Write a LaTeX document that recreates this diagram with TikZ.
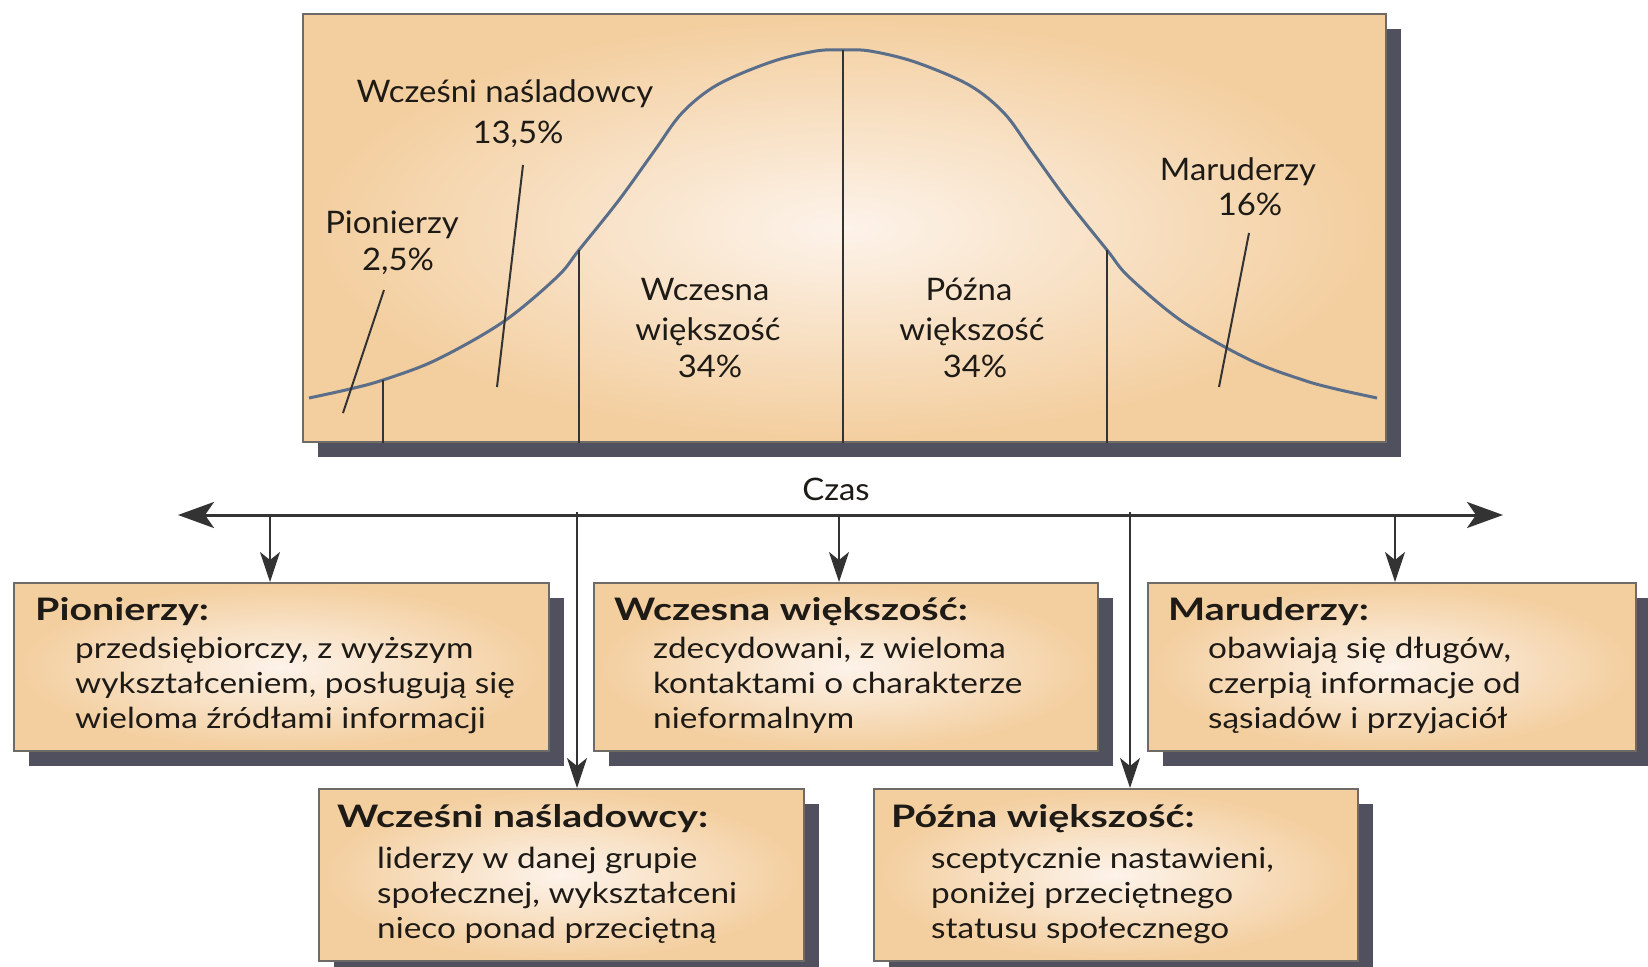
\documentclass[tikz,border=0pt]{standalone}
\usepackage{fontspec}
\setmainfont{Lato}
\newfontfamily\bodyfont[FakeStretch=1.15]{Lato}
\newfontfamily\headfont[FakeStretch=1.27]{Lato}
\newfontfamily\lblfont[FakeStretch=1.06]{Lato}
\usetikzlibrary{arrows.meta,shadows,calc}
\definecolor{tanout}{HTML}{F3CE9E}
\definecolor{tanin}{HTML}{FDF3EA}
\definecolor{shadowc}{HTML}{50505F}
\definecolor{borderc}{HTML}{6E6A66}
\definecolor{curvec}{HTML}{5A6E8A}
\definecolor{linec}{HTML}{333333}
\definecolor{txtc}{HTML}{1E1A16}
\begin{document}
\begin{tikzpicture}[x=1pt,y=-1pt,
  box/.style={draw=borderc, line width=2pt, shading=radial, inner color=tanin, outer color=tanout,
    general shadow={fill=shadowc, shadow xshift=15pt, shadow yshift=-15pt},
    anchor=north west, inner sep=0pt},
  head/.style={anchor=base west, inner sep=0pt, text=txtc, font=\headfont\fontsize{31}{34}\selectfont\bfseries},
  body/.style={anchor=base west, inner sep=0pt, text=txtc, font=\bodyfont\fontsize{29}{32}\selectfont},
  lbl/.style={anchor=base, inner sep=0pt, text=txtc, font=\lblfont\fontsize{31}{34}\selectfont},
  curveline/.style={draw=curvec, line width=3pt, line join=round},
  divline/.style={draw=linec, line width=2.2pt},
  pointer/.style={draw=linec, line width=2pt},
  axisline/.style={draw=linec, line width=3pt, {Stealth[length=36pt,width=26pt,inset=9pt]}-{Stealth[length=36pt,width=26pt,inset=9pt]}},
  arr/.style={draw=linec, line width=2.2pt, -{Stealth[length=30pt,width=20pt,inset=8pt]}}
]
\useasboundingbox (0,0) rectangle (1648,966);

% top chart box
\node[box, minimum width=1083pt, minimum height=428pt] (top) at (302,13) {};

% bell curve
\draw[curveline] plot[smooth, tension=0.55] coordinates {
 (309,398) (350,389) (383,380) (436,360) (503,322) (557,277) (579,250) (619,200)
 (655,150) (682,113) (717,85) (771,62) (816,51) (843,50) (870,51) (915,62)
 (969,85) (1004,113) (1031,150) (1067,200) (1107,250) (1129,277) (1183,322)
 (1250,360) (1303,380) (1336,389) (1377,398)};

% dividing lines
\coordinate (v1) at (383,380);
\coordinate (v2) at (579,250);
\coordinate (v3) at (843,50);
\coordinate (v4) at (1107,250);
\foreach \v in {v1,v2,v3,v4} \draw[divline] (\v) -- (\v |- top.south);

% label pointers
\coordinate (pA1) at (384,290); \coordinate (pA2) at (343,413);
\coordinate (pB1) at (523,165); \coordinate (pB2) at (497,387);
\coordinate (pC1) at (1249,233); \coordinate (pC2) at (1219,387);
\draw[pointer] (pA1) -- (pA2);
\draw[pointer] (pB1) -- (pB2);
\draw[pointer] (pC1) -- (pC2);

% chart labels
\node[lbl] (lwn1) at (505,102) {Wcześni naśladowcy};
\node[lbl] (lwn2) at (518,143) {13,5\%};
\node[lbl] (lpi1) at (392,233) {Pionierzy};
\node[lbl] (lpi2) at (398,270) {2,5\%};
\node[lbl] (lwc1) at (705,300) {Wczesna};
\node[lbl] (lwc2) at (708,340) {większość};
\node[lbl] (lwc3) at (710,377) {34\%};
\node[lbl] (lpo1) at (969,300) {Późna};
\node[lbl] (lpo2) at (972,340) {większość};
\node[lbl] (lpo3) at (975,377) {34\%};
\node[lbl] (lma1) at (1238,180) {Maruderzy};
\node[lbl] (lma2) at (1250,215) {16\%};

% time axis
\node[lbl] (czas) at (836,500) {Czas};
\coordinate (axL) at (178,515);
\coordinate (axR) at (1503,515);
\draw[axisline] (axL) -- (axR);

% description boxes
\node[box, minimum width=535pt, minimum height=168pt] (pio) at (13,582) {};
\node[box, minimum width=504pt, minimum height=168pt] (wcz) at (593,582) {};
\node[box, minimum width=488pt, minimum height=168pt] (mar) at (1147,582) {};
\node[box, minimum width=485pt, minimum height=172pt] (wn) at (318,788) {};
\node[box, minimum width=484pt, minimum height=172pt] (poz) at (873,788) {};

% arrows from the axis
\coordinate (t1) at (270,515);
\coordinate (t2) at (577,512);
\coordinate (t3) at (839,515);
\coordinate (t4) at (1130,512);
\coordinate (t5) at (1395,515);
\draw[arr] (t1) -- (t1 |- pio.north);
\draw[arr] (t2) -- (t2 |- wn.north);
\draw[arr] (t3) -- (t3 |- wcz.north);
\draw[arr] (t4) -- (t4 |- poz.north);
\draw[arr] (t5) -- (t5 |- mar.north);

% box texts
\node[head] (hpio) at ($(pio.north west)+(22,38)$) {Pionierzy:};
\node[body] (bpio1) at ($(pio.north west)+(62,76)$) {przedsiębiorczy, z wyższym};
\node[body] (bpio2) at ($(pio.north west)+(62,111)$) {wykształceniem, posługują się};
\node[body] (bpio3) at ($(pio.north west)+(62,146)$) {wieloma źródłami informacji};

\node[head] (hwcz) at ($(wcz.north west)+(21,38)$) {Wczesna większość:};
\node[body] (bwcz1) at ($(wcz.north west)+(60,76)$) {zdecydowani, z wieloma};
\node[body] (bwcz2) at ($(wcz.north west)+(60,111)$) {kontaktami o charakterze};
\node[body] (bwcz3) at ($(wcz.north west)+(60,146)$) {nieformalnym};

\node[head] (hmar) at ($(mar.north west)+(21,38)$) {Maruderzy:};
\node[body] (bmar1) at ($(mar.north west)+(61,76)$) {obawiają się długów,};
\node[body] (bmar2) at ($(mar.north west)+(61,111)$) {czerpią informacje od};
\node[body] (bmar3) at ($(mar.north west)+(61,146)$) {sąsiadów i przyjaciół};

\node[head] (hwn) at ($(wn.north west)+(19,39)$) {Wcześni naśladowcy:};
\node[body] (bwn1) at ($(wn.north west)+(59,80)$) {liderzy w danej grupie};
\node[body] (bwn2) at ($(wn.north west)+(59,115)$) {społecznej, wykształceni};
\node[body] (bwn3) at ($(wn.north west)+(59,150)$) {nieco ponad przeciętną};

\node[head] (hpoz) at ($(poz.north west)+(18,39)$) {Późna większość:};
\node[body] (bpoz1) at ($(poz.north west)+(58,80)$) {sceptycznie nastawieni,};
\node[body] (bpoz2) at ($(poz.north west)+(58,115)$) {poniżej przeciętnego};
\node[body] (bpoz3) at ($(poz.north west)+(58,150)$) {statusu społecznego};
\end{tikzpicture}
\end{document}
